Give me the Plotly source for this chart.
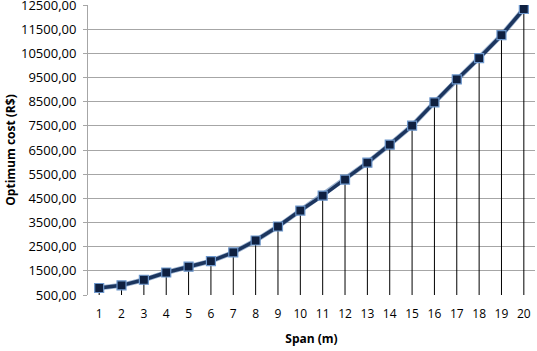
import plotly.graph_objects as go

span = list(range(1, 21))
cost = [790, 900, 1130, 1430, 1670, 1905, 2260, 2755, 3335, 3995,
        4610, 5275, 5975, 6720, 7505, 8470, 9420, 10300, 11250, 12335]
y_ticks = list(range(500, 13500, 1000))
y_tick_text = [f"{v},00" for v in y_ticks]
y_min, y_max = 500, 12500

FONT = "Open Sans"

# drop lines from each point down to the axis
dx, dy = [], []
for s, c in zip(span, cost):
    dx += [s, s, None]
    dy += [y_min, c, None]

fig = go.Figure()
fig.add_trace(go.Scatter(x=dx, y=dy, mode="lines",
                         line=dict(color="black", width=1), hoverinfo="skip",
                         showlegend=False))
fig.add_trace(go.Scatter(x=span, y=cost, mode="lines",
                         line=dict(color="#5a7fb0", width=5), hoverinfo="skip",
                         showlegend=False, opacity=0.6))
fig.add_trace(go.Scatter(x=span, y=cost, mode="lines+markers",
                         line=dict(color="#1c355e", width=3.5),
                         marker=dict(symbol="square", size=9, color="#0f2040",
                                     line=dict(color="#6d97cc", width=1.2)),
                         showlegend=False))

fig.update_layout(
    width=537, height=351,
    margin=dict(l=88, r=2, t=5, b=56, autoexpand=False),
    paper_bgcolor="white", plot_bgcolor="white",
    font=dict(family=FONT, size=13, color="black"),
)
fig.update_xaxes(
    type="linear", range=[0.5, 20.5], tickmode="array", tickvals=span,
    ticktext=[str(s) for s in span], showgrid=False, zeroline=False,
    showline=False, ticks="", ticklabelstandoff=10, automargin=False,
    tickfont=dict(size=12),
    title=dict(text="<b>Span (m)</b>", font=dict(size=12), standoff=13),
)
fig.update_yaxes(
    range=[y_min, y_max], tickmode="array", tickvals=y_ticks,
    ticktext=y_tick_text, showgrid=True, gridcolor="#a6a6a6", gridwidth=1,
    zeroline=False, showline=True, linecolor="#a6a6a6", linewidth=1,
    ticks="outside", ticklen=4, tickcolor="#a6a6a6", ticklabelstandoff=4,
    ticklabeloverflow="allow", automargin=False,
    tickfont=dict(size=13),
    title=dict(text="<b>Optimum cost (R$)</b>", font=dict(size=12), standoff=2),
)

fig.write_html("out.html")
